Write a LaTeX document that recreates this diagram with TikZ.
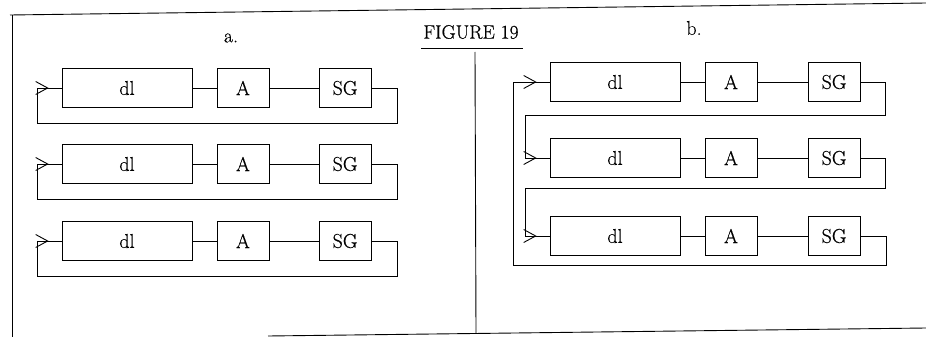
\documentclass[tikz,border=0pt]{standalone}
\usepackage{fontspec}
\newfontfamily\scanfont{Latin Modern Roman}[FakeBold=0.5]
\usetikzlibrary{arrows.meta,decorations.markings}
\begin{document}
\begin{tikzpicture}[x=1pt,y=-1pt,
  line width=0.9pt,
  txt/.style={font=\scanfont\fontsize{20}{22}\selectfont},
  blk/.style={draw,line width=0.8pt,inner sep=0pt,minimum height=39pt,txt},
  dlbox/.style={blk,minimum width=130pt},
  smallbox/.style={blk,minimum width=52pt},
  lbl/.style={txt,inner sep=0pt},
  fb/.style={decoration={markings,mark=at position -13pt with {\arrow{Straight Barb[length=12pt,width=13pt,line width=0.9pt]}}},postaction={decorate}}
]
\useasboundingbox (0,0) rectangle (926,337);
% frame
\draw (10,15) -- (926,3);
\draw (12,15) -- (12,337);
\draw (268,336) -- (926,328);
\draw (475,52) -- (476,333);
% title
\node[lbl,font=\scanfont\fontsize{19.5}{22}\selectfont] (title) at (471,32) {FIGURE 19};
\draw (421,48) -- (523,48);
\node[lbl] (la) at (231,38) {a.};
\node[lbl] (lb) at (694,28) {b.};
% left panel
\foreach \i/\y in {1/88,2/164,3/241}{
  \node[dlbox] (Ldl\i) at (127,\y) {dl};
  \node[smallbox] (LA\i) at (243,\y) {A};
  \node[smallbox] (LSG\i) at (345,\y) {SG};
  \draw (Ldl\i) -- (LA\i);
  \draw (LA\i) -- (LSG\i);
  \draw[fb] (LSG\i.east) -| (397,\y+35) -| (37,\y) -- (Ldl\i.west);
}
% right panel
\foreach \i/\y in {1/82,2/158,3/236}{
  \node[dlbox] (Rdl\i) at (615,\y) {dl};
  \node[smallbox] (RA\i) at (731,\y) {A};
  \node[smallbox] (RSG\i) at (834,\y) {SG};
  \draw (Rdl\i) -- (RA\i);
  \draw (RA\i) -- (RSG\i);
}
\draw[fb] (RSG1.east) -| (885,115) -| (525,158) -- (Rdl2.west);
\draw[fb] (RSG2.east) -| (885,188) -| (525,236) -- (Rdl3.west);
\draw[fb] (RSG3.east) -| (886,265) -| (513,82) -- (Rdl1.west);
\end{tikzpicture}
\end{document}
